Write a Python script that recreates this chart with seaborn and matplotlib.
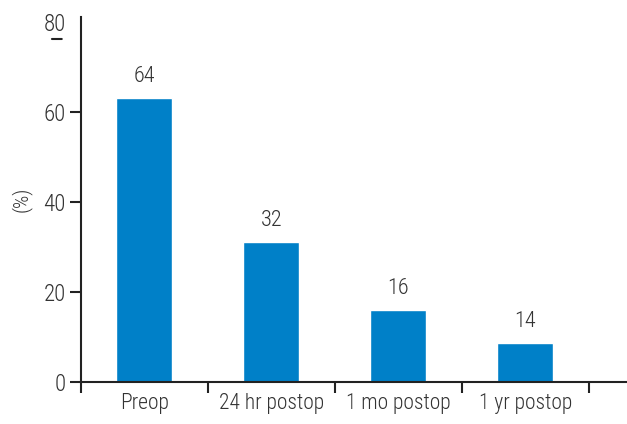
import pandas as pd
import matplotlib.pyplot as plt
import seaborn as sns

# Data
stages = ['Preop', '24 hr postop', '1 mo postop', '1 yr postop']
bar_heights = [63.0, 31.0, 16.0, 8.7]
value_labels = ['64', '32', '16', '14']
y_ticks = [0, 20, 40, 60, 80]

df = pd.DataFrame({'stage': stages, 'pct': bar_heights})

sns.set_style("ticks")
plt.rcParams['font.family'] = ['Roboto Condensed', 'DejaVu Sans']
plt.rcParams['font.stretch'] = 'condensed'
plt.rcParams['font.weight'] = 'light'
plt.rcParams['axes.labelweight'] = 'light'
plt.rcParams['text.color'] = '#333333'

fig = plt.figure(figsize=(6.27, 4.24), dpi=100)
ax = fig.add_axes([0.129, 0.099, 0.871, 0.860])

sns.barplot(data=df, x='stage', y='pct', color='#0080C8', saturation=1,
            width=0.44, ax=ax)

for i, lab in enumerate(value_labels):
    ax.annotate(lab, (i, bar_heights[i]), xytext=(0, 8), textcoords='offset points',
                ha='center', va='bottom', fontsize=16, color='#333333')

ax.set_ylim(0, 81)
ax.set_xlim(-0.5, 3.8)
ax.set_yticks(y_ticks)
ax.set_ylabel('(%)', fontsize=15, color='#333333', labelpad=8, fontweight='light')
ax.set_xlabel('')

# category boundary ticks on x, labels centred in between
ax.set_xticks([-0.5, 0.5, 1.5, 2.5, 3.5])
ax.set_xticklabels([])
ax.set_xticks(range(len(stages)), minor=True)
ax.set_xticklabels(stages, minor=True)
ax.tick_params(axis='x', which='minor', length=0, labelsize=15.5, colors='#333333', pad=8)
ax.tick_params(axis='x', which='major', length=8, width=1.5, color='#222222')
ax.tick_params(axis='y', length=8, width=1.5, color='#222222', labelsize=16.5,
               labelcolor='#333333', pad=3)

# the top tick in the original is drawn as a stray dash under the label
ax.yaxis.get_major_ticks()[-1].tick1line.set_visible(False)
ax.annotate('', xy=(-0.053, 76.2), xytext=(-0.035, 76.2),
            xycoords=('axes fraction', 'data'), textcoords=('axes fraction', 'data'),
            annotation_clip=False,
            arrowprops=dict(arrowstyle='-', color='#222222', lw=1.5, shrinkA=0, shrinkB=0))

for s in ['left', 'bottom']:
    ax.spines[s].set_linewidth(1.5)
    ax.spines[s].set_color('#222222')
sns.despine(ax=ax)

fig.savefig('out.png', dpi=100)
